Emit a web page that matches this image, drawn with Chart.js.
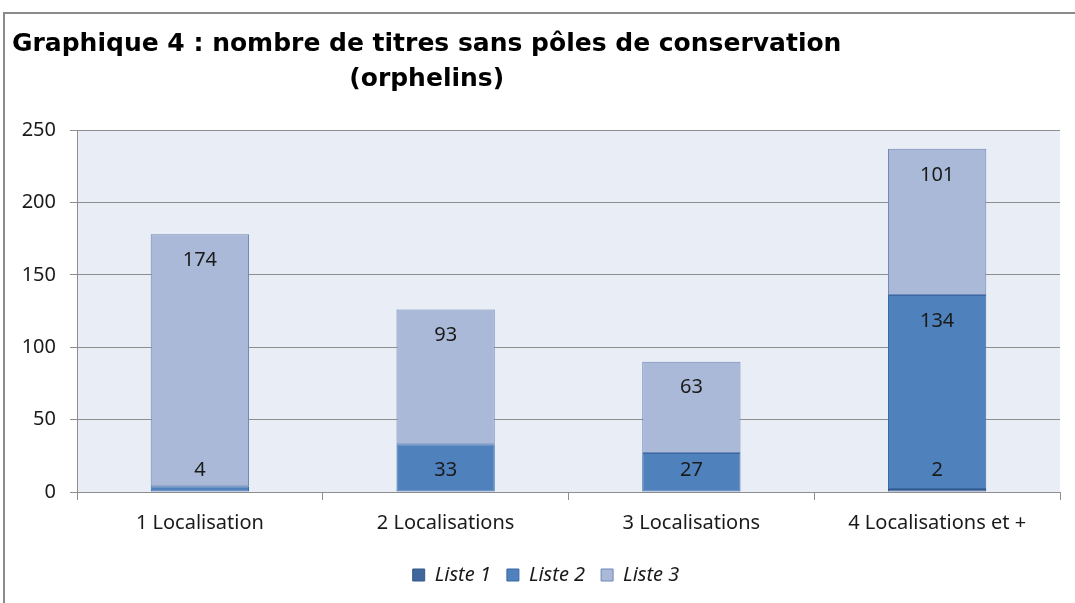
<!DOCTYPE html>
<html><head><meta charset="utf-8">
<script src="https://cdn.jsdelivr.net/npm/chart.js@4.4.1/dist/chart.umd.min.js"></script>
<style>html,body{margin:0;padding:0;background:#fff;overflow:hidden}#wrap{width:1075px;height:603px}</style>
</head><body><div id="wrap"><canvas id="c" width="1075" height="603"></canvas></div>
<script>
const titleLines = ["Graphique 4 : nombre de titres sans pôles de conservation", "(orphelins)"];
const categories = ["1 Localisation", "2 Localisations", "3 Localisations", "4 Localisations et +"];
const seriesNames = ["Liste 1", "Liste 2", "Liste 3"];
const liste1 = [0, 0, 0, 2];
const liste2 = [4, 33, 27, 134];
const liste3 = [174, 93, 63, 101];
const yMin = 0, yMax = 250, yStep = 50;

const fills = ["#3F679C", "#4F81BD", "#AAB9D7"];
const borders = ["#34578A", "#3A69A3", "#6F88B8"];
const gridGray = "#8E8E8E";
const tickFont = {family: "'Noto Sans', sans-serif", size: 20};

const framePlugin = {
  id: 'frame',
  afterLayout(chart) {
    if (chart.legend) { chart.legend.left += 12; chart.legend.right += 12; }
  },
  beforeDraw(chart) {
    const ctx = chart.ctx, a = chart.chartArea;
    ctx.save();
    ctx.fillStyle = '#fff';
    ctx.fillRect(0, 0, chart.width, chart.height);
    ctx.strokeStyle = '#8A8A8A';
    ctx.lineWidth = 2;
    ctx.strokeRect(4, 13, chart.width + 20, chart.height + 20);
    ctx.fillStyle = '#E9EDF5';
    ctx.fillRect(a.left, a.top, a.right - a.left, a.bottom - a.top);
    ctx.restore();
  },
  afterDraw(chart) {
    const ctx = chart.ctx;
    ctx.save();
    ctx.fillStyle = '#000';
    ctx.font = "bold 25px 'DejaVu Sans', sans-serif";
    ctx.textBaseline = 'alphabetic';
    ctx.textAlign = 'left';
    const x0 = 12;
    const w = ctx.measureText(titleLines[0]).width;
    ctx.fillText(titleLines[0], x0, 51);
    ctx.textAlign = 'center';
    ctx.fillText(titleLines[1], x0 + w / 2, 86);
    ctx.restore();
  }
};

const labelPlugin = {
  id: 'valueLabels',
  afterDatasetsDraw(chart) {
    const ctx = chart.ctx;
    const zero = chart.scales.y.getPixelForValue(0);
    ctx.save();
    ctx.font = "20px 'Noto Sans', sans-serif";
    ctx.fillStyle = '#1A1A1A';
    ctx.textAlign = 'center';
    ctx.textBaseline = 'middle';
    chart.data.datasets.forEach((ds, di) => {
      const meta = chart.getDatasetMeta(di);
      meta.data.forEach((el, i) => {
        const v = ds.data[i];
        if (!v) return;
        const y = Math.min(el.y + 26, zero - 22);
        ctx.fillText(String(v), el.x, y);
      });
    });
    ctx.restore();
  }
};

const seriesValues = [liste1, liste2, liste3];
new Chart(document.getElementById('c'), {
  type: 'bar',
  data: {
    labels: categories,
    datasets: seriesValues.map((vals, k) => ({
      label: seriesNames[k],
      data: vals.map(v => v === 0 ? null : v),
      backgroundColor: fills[k],
      borderColor: borders[k],
      borderWidth: 1,
      borderSkipped: false,
      barPercentage: 0.4,
      categoryPercentage: 1.0
    }))
  },
  options: {
    responsive: false,
    animation: false,
    devicePixelRatio: 1,
    layout: {padding: {top: 130, left: 8, right: 15, bottom: 8}},
    plugins: {
      title: {display: false},
      tooltip: {enabled: false},
      legend: {
        position: 'bottom',
        labels: {
          font: {family: "'Noto Sans', sans-serif", size: 20, style: 'italic'},
          color: '#1A1A1A',
          boxWidth: 12, boxHeight: 12,
          padding: 16
        }
      }
    },
    scales: {
      x: {
        stacked: true,
        grid: {drawOnChartArea: false, drawTicks: true, tickLength: 8, color: gridGray, offset: true},
        border: {color: gridGray},
        ticks: {font: tickFont, color: '#1A1A1A', padding: 11},
        afterFit(scale) { scale.height += 3; }
      },
      y: {
        stacked: true,
        min: yMin, max: yMax,
        ticks: {stepSize: yStep, font: tickFont, color: '#1A1A1A', padding: 14},
        grid: {color: gridGray, tickLength: 7},
        border: {color: gridGray},
        afterFit(scale) { scale.width = 69; }
      }
    }
  },
  plugins: [framePlugin, labelPlugin]
});
</script>
</body></html>
